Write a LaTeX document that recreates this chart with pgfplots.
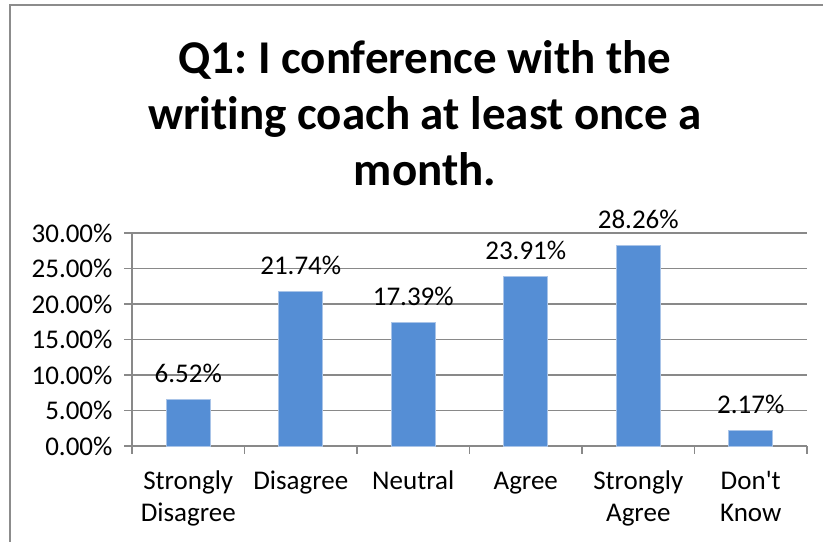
\documentclass[border=0pt]{standalone}
\usepackage{fontspec}
\setmainfont{Carlito}[Ligatures=NoCommon]
\usepackage{pgfplots}
\pgfplotsset{compat=1.18}
\definecolor{barblue}{HTML}{558ED5}
\definecolor{baredge}{HTML}{A9C4E8}
\definecolor{gridgray}{HTML}{898989}
\definecolor{framegray}{HTML}{8C8C8C}
\frenchspacing

\begin{document}
\begin{tikzpicture}[x=1bp,y=1bp]
\useasboundingbox (0,0) rectangle (823,542);
% chart frame (cropped: only left and top edges visible)
\draw[framegray, line width=1.6bp] (10,0) -- (10,537) -- (823,537);
% title (base anchor = last line)
\node[font=\fontsize{47bp}{56bp}\selectfont\bfseries, align=center, anchor=base]
  at (425,356) {Q1: I conference with the\\writing coach at least once a\\month.};
\begin{axis}[
  at={(132bp,96bp)}, anchor=south west,
  scale only axis, width=675bp, height=213bp,
  ymin=0, ymax=30, ytick={0,5,...,30},
  xmin=-0.5, xmax=5.5,
  xtick={0,...,5},
  xticklabels={Strongly\\Disagree, Disagree, Neutral, Agree, Strongly\\Agree, Don\textquotesingle t\\Know},
  minor xtick={-0.5,0.5,...,5.5},
  major x tick style={draw=none},
  minor tick length=8bp, major tick length=8bp,
  tick align=outside,
  axis x line*=bottom, axis y line*=left,
  axis line style={gridgray, line width=1.5bp, -},
  tick style={gridgray, line width=1.5bp},
  ymajorgrids, grid style={gridgray, line width=1.5bp},
  /pgf/number format/assume math mode=true,
  yticklabel={\pgfmathprintnumber[fixed,fixed zerofill,precision=2]{\tick}\%},
  ticklabel style={font=\fontsize{27bp}{32bp}\selectfont},
  typeset ticklabels with strut,
  xticklabel style={align=center, anchor=north, yshift=-10bp},
  yticklabel style={xshift=-8bp},
  ybar, bar width=44bp,
  nodes near coords={\pgfmathprintnumber[fixed,fixed zerofill,precision=2]{\pgfplotspointmeta}\%},
  every node near coord/.append style={font=\fontsize{27bp}{32bp}\selectfont, anchor=base, yshift=17bp},
  clip=false,
]
\addplot[fill=barblue, draw=baredge, line width=0.8bp]
  coordinates {(0,6.52) (1,21.74) (2,17.39) (3,23.91) (4,28.26) (5,2.17)};
\end{axis}
\end{tikzpicture}
\end{document}
